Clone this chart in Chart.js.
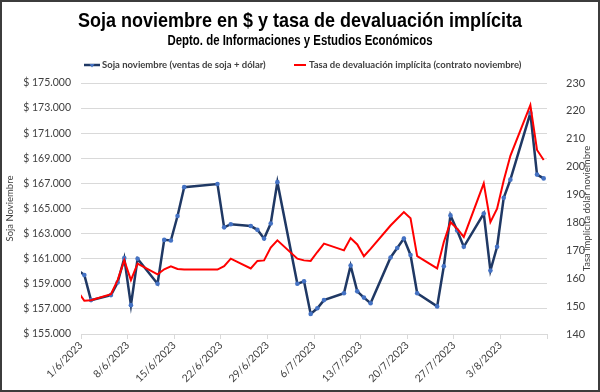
<!DOCTYPE html>
<html>
<head>
<meta charset="utf-8">
<script src="https://cdn.jsdelivr.net/npm/chart.js@4.4.0/dist/chart.umd.min.js"></script>
<style>
  html, body { margin: 0; padding: 0; background: #fff; }
</style>
</head>
<body>
<canvas id="myChart" width="600" height="392"></canvas>
<script>
// fechas de las ruedas (d/m/aaaa)
const fechas = ['31/5/2023', '1/6/2023', '2/6/2023', '5/6/2023', '6/6/2023', '7/6/2023', '8/6/2023', '9/6/2023',
  '12/6/2023', '13/6/2023', '14/6/2023', '15/6/2023', '16/6/2023', '21/6/2023', '22/6/2023', '23/6/2023',
  '26/6/2023', '27/6/2023', '28/6/2023', '29/6/2023', '30/6/2023', '3/7/2023', '4/7/2023', '5/7/2023',
  '6/7/2023', '7/7/2023', '10/7/2023', '11/7/2023', '12/7/2023', '13/7/2023', '14/7/2023', '17/7/2023',
  '18/7/2023', '19/7/2023', '20/7/2023', '21/7/2023', '24/7/2023', '25/7/2023', '26/7/2023', '27/7/2023',
  '28/7/2023', '31/7/2023', '1/8/2023', '2/8/2023', '3/8/2023', '4/8/2023', '7/8/2023', '8/8/2023', '9/8/2023'];

// soja noviembre en $ (ventas de soja + dólar)
const soja = [160100, 159700, 157700, 158100, 159100, 161050, 157300, 161000,
  159000, 162500, 162450, 164400, 166700, 166950, 163500, 163750,
  163600, 163300, 162600, 163800, 167100, 159000, 159200, 156600,
  157050, 157700, 158250, 160450, 158400, 157900, 157450, 161100,
  161850, 162600, 161300, 158250, 157200, 160400, 164450, 163250,
  161950, 164600, 160050, 161950, 165850, 167300, 172600, 167700, 167400];

// tasa de devaluación implícita (contrato noviembre)
const tasa = [155.3, 151.9, 152.1, 154.3, 159.3, 166.4, 159.3, 165.2,
  161.4, 163.2, 164.3, 163.3, 163.1, 163.1, 164.3, 167.0,
  163.5, 166.2, 166.4, 171.0, 173.6, 167.0, 166.4, 166.2,
  169.4, 172.4, 170.0, 174.4, 172.1, 167.9, 170.5, 178.9,
  181.3, 183.7, 181.5, 167.9, 163.5, 173.0, 180.1, 177.8,
  174.8, 194.0, 180.1, 184.9, 195.0, 203.9, 222.1, 206.0, 202.4];

const titulo = 'Soja noviembre en $ y tasa de devaluación implícita';
const subtitulo = 'Depto. de Informaciones y Estudios Económicos';
const nombreSoja = 'Soja noviembre (ventas de soja + dólar)';
const nombreTasa = 'Tasa de devaluación implícita (contrato noviembre)';

// eje de fechas: días desde el 1/6/2023
const inicio = Date.UTC(2023, 5, 1);
const DIA = 86400000;

function diaDe(f) {
  const [d, m, a] = f.split('/').map(Number);
  return (Date.UTC(a, m - 1, d) - inicio) / DIA;
}

function etiquetaFecha(v) {
  const f = new Date(inicio + v * DIA);
  return f.getUTCDate() + '/' + (f.getUTCMonth() + 1) + '/' + f.getUTCFullYear();
}

function pesos(v) {
  return '$ ' + v.toLocaleString('de-DE');
}

// cada punto va en el centro del día
const puntosSoja = fechas.map((f, i) => ({ x: diaDe(f) + 0.5, y: soja[i] }));
const puntosTasa = fechas.map((f, i) => ({ x: diaDe(f) + 0.5, y: tasa[i] }));

const AZUL = '#1F3864';
const MARCA = '#4472C4';
const ROJO = '#FF0000';
const TEXTO = '#404040';

// texto angosto (estilo Arial Narrow)
function textoAngosto(ctx, txt, x, y, font, ancho) {
  ctx.save();
  ctx.font = font;
  const w = ctx.measureText(txt).width;
  ctx.translate(x, y);
  ctx.scale(ancho / w, 1);
  ctx.fillStyle = '#000';
  ctx.textAlign = 'center';
  ctx.textBaseline = 'middle';
  ctx.fillText(txt, 0, 0);
  ctx.restore();
}

// fondo, títulos, leyenda, título del eje derecho y marco
const marco = {
  id: 'marco',
  beforeDraw(chart) {
    const ctx = chart.ctx;
    ctx.save();
    ctx.fillStyle = '#fff';
    ctx.fillRect(0, 0, chart.width, chart.height);
    ctx.restore();
  },
  afterDraw(chart) {
    const { ctx, chartArea } = chart;

    textoAngosto(ctx, titulo, 300, 21, 'bold 21px "Liberation Sans"', 444);
    textoAngosto(ctx, subtitulo, 300, 41.5, 'bold 14px "Liberation Sans"', 265);

    // leyenda
    ctx.save();
    ctx.lineWidth = 2.5;
    ctx.strokeStyle = AZUL;
    ctx.beginPath(); ctx.moveTo(84, 65); ctx.lineTo(100, 65); ctx.stroke();
    ctx.fillStyle = MARCA;
    ctx.beginPath(); ctx.moveTo(89.5, 64); ctx.lineTo(94.5, 64); ctx.lineTo(92, 67.5); ctx.closePath(); ctx.fill();
    ctx.lineWidth = 2;
    ctx.strokeStyle = ROJO;
    ctx.beginPath(); ctx.moveTo(294, 65); ctx.lineTo(306, 65); ctx.stroke();
    ctx.font = 'bold 9.5px Lato';
    ctx.fillStyle = TEXTO;
    ctx.textAlign = 'left';
    ctx.textBaseline = 'middle';
    ctx.fillText(nombreSoja, 102, 65);
    ctx.fillText(nombreTasa, 309, 65);
    ctx.restore();

    // título del eje derecho
    ctx.save();
    ctx.translate(587, (chartArea.top + chartArea.bottom) / 2);
    ctx.rotate(-Math.PI / 2);
    ctx.font = '9.5px Lato';
    ctx.fillStyle = TEXTO;
    ctx.textAlign = 'center';
    ctx.textBaseline = 'middle';
    ctx.fillText('Tasa implícita dólar noviembre', 0, 0);
    ctx.restore();

    ctx.save();
    ctx.strokeStyle = '#3c3c3c';
    ctx.lineWidth = 2;
    ctx.strokeRect(1, 1, chart.width - 2, chart.height - 2);
    ctx.restore();
  }
};

const ctx = document.getElementById('myChart').getContext('2d');

const myChart = new Chart(ctx, {
  type: 'line',
  data: {
    datasets: [
      {
        label: nombreSoja,
        data: puntosSoja,
        yAxisID: 'y',
        borderColor: AZUL,
        borderWidth: 2.5,
        pointRadius: 2.3,
        pointBackgroundColor: MARCA,
        pointBorderColor: MARCA,
        pointBorderWidth: 0,
        tension: 0,
        clip: 0,
        order: 2
      },
      {
        label: nombreTasa,
        data: puntosTasa,
        yAxisID: 'y2',
        borderColor: ROJO,
        borderWidth: 2,
        pointRadius: 0,
        tension: 0,
        clip: 0,
        order: 1
      }
    ]
  },
  options: {
    responsive: false,
    animation: false,
    layout: { padding: { top: 83, left: 0, right: 0, bottom: 0 } },
    plugins: {
      title: { display: false },
      legend: { display: false },
      tooltip: { enabled: false }
    },
    scales: {
      x: {
        type: 'linear',
        min: 0,
        max: 70,
        afterFit(scale) { scale.height = 58; },
        grid: { display: true, drawOnChartArea: false, drawTicks: true, tickLength: 5, color: '#d9d9d9' },
        border: { display: true, color: '#d9d9d9' },
        ticks: {
          stepSize: 7,
          autoSkip: false,
          maxRotation: 45,
          minRotation: 45,
          padding: 0,
          color: TEXTO,
          font: { family: 'Lato', size: 10.5 },
          callback: (v) => (v >= 70 ? '' : etiquetaFecha(v))
        }
      },
      y: {
        position: 'left',
        min: 155000,
        max: 175000,
        afterFit(scale) { scale.width = 81; },
        grid: { color: '#d9d9d9', drawTicks: false },
        border: { display: false },
        title: {
          display: true,
          text: 'Soja Noviembre',
          color: TEXTO,
          font: { family: 'Lato', size: 9.5 },
          padding: { top: 4, bottom: 0 }
        },
        ticks: {
          stepSize: 2000,
          padding: 10,
          color: TEXTO,
          font: { family: 'Lato', size: 10.5 },
          callback: (v) => pesos(v)
        }
      },
      y2: {
        position: 'right',
        min: 140,
        max: 230,
        afterFit(scale) { scale.width = 53; },
        grid: { display: false },
        border: { display: false },
        ticks: {
          stepSize: 10,
          padding: 11,
          color: TEXTO,
          font: { family: 'Lato', size: 11 }
        }
      }
    }
  },
  plugins: [marco]
});
</script>
</body>
</html>
